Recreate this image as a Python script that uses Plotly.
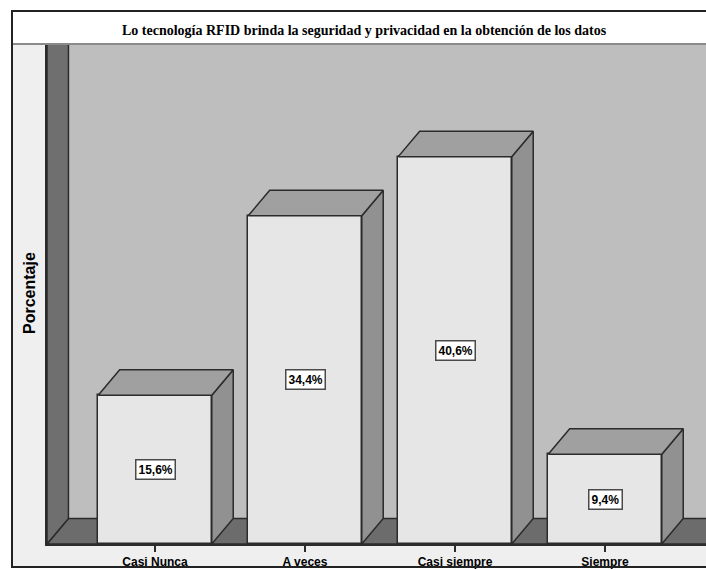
import plotly.graph_objects as go

# Survey answers and their shares (%)
categories = ["Casi Nunca", "A veces", "Casi siempre", "Siempre"]
percentages = [15.6, 34.4, 40.6, 9.4]
chart_title = "Lo tecnología RFID brinda la seguridad y privacidad en la obtención de los datos"
y_title = "Porcentaje"

# Pseudo-3D geometry (axis units)
BAR_W = 0.757          # front face width
DX = 0.143             # depth offset along x
DY = 2.67              # depth offset along y (percent units)
X_RANGE = [-0.72, 3.6733]
Y_RANGE = [0, 52.3]

FRONT = "#e6e6e6"
TOP = "#a0a0a0"
SIDE = "#919191"
WALL = "#bebebe"
DARK_WALL = "#6f6f6f"
FLOOR = "#6c6c6c"
EDGE = "#2b2b2b"
SURROUND = "#efefef"

W, H = 706, 570
M = dict(l=47, r=0, t=45, b=26)
PW = W - M["l"] - M["r"]
PH = H - M["t"] - M["b"]


def px_x(p):
    return (p - M["l"]) / PW


def px_y(p):
    return (H - M["b"] - p) / PH


fig = go.Figure()

xs = list(range(len(categories)))

# side and top faces of each bar
for x, v in zip(xs, percentages):
    left, right = x - BAR_W / 2, x + BAR_W / 2
    fig.add_trace(go.Scatter(
        x=[right, right, right + DX, right + DX, right],
        y=[0, v, v + DY, DY, 0],
        mode="lines", fill="toself", fillcolor=SIDE,
        line=dict(color=EDGE, width=1.5), hoverinfo="skip", showlegend=False))
    fig.add_trace(go.Scatter(
        x=[left, right, right + DX, left + DX, left],
        y=[v, v, v + DY, v + DY, v],
        mode="lines", fill="toself", fillcolor=TOP,
        line=dict(color=EDGE, width=1.5), hoverinfo="skip", showlegend=False))

# front faces
fig.add_trace(go.Bar(
    x=xs, y=percentages, width=BAR_W,
    marker=dict(color=FRONT, line=dict(color=EDGE, width=1.5)),
    hoverinfo="skip", showlegend=False))

# value labels in boxes
for x, v in zip(xs, percentages):
    fig.add_annotation(
        x=x, y=v / 2, xref="x", yref="y",
        text="<b>" + f"{v:.1f}".replace(".", ",") + "%</b>",
        showarrow=False, bgcolor="white", bordercolor="#4a4a4a",
        borderwidth=1.5, borderpad=2,
        font=dict(family="Liberation Sans", size=12, color="black"))

shapes = []
xl, xr = X_RANGE
ytop = Y_RANGE[1]
# floor
shapes.append(dict(
    type="path", xref="x", yref="y", layer="below",
    path=f"M {xl},0 L {xl + DX},{DY} L {xr + 1},{DY} L {xr + 1},0 Z",
    fillcolor=FLOOR, line=dict(color=EDGE, width=1.5)))
# left wall
shapes.append(dict(
    type="path", xref="x", yref="y", layer="below",
    path=f"M {xl},0 L {xl},{ytop + 1} L {xl + DX},{ytop + 1} L {xl + DX},{DY} Z",
    fillcolor=DARK_WALL, line=dict(color=EDGE, width=1.5)))

# light surround outside the plot area
shapes.append(dict(type="rect", xref="paper", yref="paper", layer="below",
                   x0=px_x(12), x1=px_x(47), y0=px_y(567), y1=px_y(44),
                   fillcolor=SURROUND, line=dict(width=0)))
shapes.append(dict(type="rect", xref="paper", yref="paper", layer="below",
                   x0=px_x(12), x1=px_x(720), y0=px_y(567), y1=px_y(544),
                   fillcolor=SURROUND, line=dict(width=0)))
# band under the title
shapes.append(dict(type="line", xref="paper", yref="paper",
                   x0=px_x(12), x1=px_x(720), y0=px_y(44), y1=px_y(44),
                   line=dict(color="#8a8a8a", width=2)))
# outer frame
shapes.append(dict(type="rect", xref="paper", yref="paper",
                   x0=px_x(12), x1=px_x(730), y0=px_y(567), y1=px_y(11),
                   fillcolor="rgba(0,0,0,0)", line=dict(color="#222", width=2)))

fig.update_layout(shapes=shapes)

fig.add_annotation(
    x=px_x(364.5), y=px_y(30), xref="paper", yref="paper",
    text="<b>" + chart_title + "</b>", showarrow=False,
    xanchor="center", yanchor="middle",
    font=dict(family="Liberation Serif", size=14, color="black"))

fig.add_annotation(
    x=px_x(29), y=px_y(293), xref="paper", yref="paper",
    text="<b>" + y_title + "</b>", showarrow=False, textangle=-90,
    xanchor="center", yanchor="middle",
    font=dict(family="Liberation Sans", size=16, color="black"))

fig.update_xaxes(
    range=X_RANGE, tickvals=xs,
    ticktext=["<b>" + c + "</b>" for c in categories],
    ticks="outside", ticklen=6, tickwidth=1.5, tickcolor=EDGE,
    showline=True, linecolor=EDGE, linewidth=1.5,
    showgrid=False, zeroline=False,
    tickfont=dict(family="Liberation Sans", size=12, color="black"))
fig.update_yaxes(
    range=Y_RANGE, showticklabels=False, ticks="",
    showline=True, linecolor=EDGE, linewidth=1.5,
    showgrid=False, zeroline=False)

fig.update_layout(
    width=W, height=H, margin=M,
    paper_bgcolor="white", plot_bgcolor=WALL,
    bargap=0)

fig.write_html("out.html")
